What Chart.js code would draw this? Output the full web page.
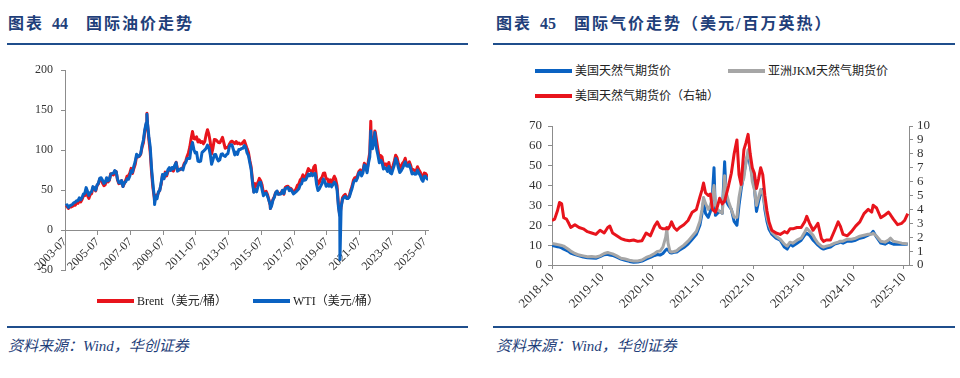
<!DOCTYPE html>
<html lang="zh-CN">
<head>
<meta charset="utf-8">
<title>国际油价与气价走势</title>
<script src="https://cdn.jsdelivr.net/npm/chart.js@4.4.1/dist/chart.umd.min.js"></script>
<style>
  html, body { margin: 0; padding: 0; background: #fff; }
  body { width: 960px; height: 378px; position: relative; overflow: hidden;
         font-family: "Liberation Serif", "Noto Sans CJK SC", serif; }
  .title { position: absolute; top: 14px; font-size: 16px; line-height: 20px; font-weight: bold;
           color: #1f3f7a; letter-spacing: 2px; white-space: nowrap; }
  .title .num { margin: 0 18px 0 8px; letter-spacing: 0; }
  .rule { position: absolute; height: 2px; background: #1f4e8c; }
  .source { position: absolute; top: 336px; font-size: 15px; line-height: 20px; font-style: italic;
            color: #1f3f7a; white-space: nowrap; }
  .box { position: absolute; }
  .legend { position: absolute; font-size: 12px; line-height: 16px; color: #222; white-space: nowrap;
            display: flex; align-items: center; }
  .legend i { display: inline-block; width: 37px; height: 4px; margin-right: 3px; }
</style>
</head>
<body>

<div class="title" style="left:8px">图表<span class="num">44</span>国际油价走势</div>
<div class="rule" style="left:7px; width:461px; top:43px"></div>
<div class="box" style="left:0; top:55px"><canvas id="oilChart" width="470" height="240"></canvas></div>
<div class="legend" style="left:97px; top:293px"><i style="background:#e8141c"></i>Brent（美元/桶）</div>
<div class="legend" style="left:253px; top:293px"><i style="background:#0a62c2"></i>WTI（美元/桶）</div>
<div class="rule" style="left:7px; width:461px; top:326px"></div>
<div class="source" style="left:8px">资料来源：Wind，华创证券</div>

<div class="title" style="left:496px">图表<span class="num">45</span>国际气价走势（美元/百万英热）</div>
<div class="rule" style="left:493px; width:462px; top:43px"></div>
<div class="legend" style="left:535px; top:63px"><i style="background:#0a62c2"></i>美国天然气期货价</div>
<div class="legend" style="left:728px; top:63px"><i style="background:#a6a6a6"></i>亚洲JKM天然气期货价</div>
<div class="legend" style="left:535px; top:88px"><i style="background:#e8141c"></i>美国天然气期货价（右轴）</div>
<div class="box" style="left:490px; top:110px"><canvas id="gasChart" width="470" height="210"></canvas></div>
<div class="rule" style="left:493px; width:462px; top:326px"></div>
<div class="source" style="left:496px">资料来源：Wind，华创证券</div>

<script>
// ---- 图表44：国际油价（月均，美元/桶），从 2003-07 开始 ----
const brent = [
  28.5, 29.8, 27.1, 29.6, 28.8, 29.8,
  31.2, 30.9, 33.8, 33.4, 37.9, 35.2, 38.2, 42.7, 43.2, 49.8, 43.1, 39.6,
  44.5, 45.5, 53.1, 51.9, 49.0, 55.6, 57.9, 63.8, 63.7, 58.9, 55.5, 56.7,
  63.0, 60.2, 62.1, 70.3, 70.0, 68.9, 73.7, 73.2, 62.5, 58.0, 58.8, 62.0,
  54.5, 58.0, 62.1, 67.5, 67.9, 71.3, 77.2, 70.8, 77.1, 82.3, 92.5, 91.5,
  92.2, 94.9, 103.6, 109.1, 122.8, 132.3, 132.7, 113.2, 97.2, 71.6, 52.5, 40.0,
  43.4, 43.0, 46.5, 50.2, 57.3, 68.6, 64.4, 72.5, 67.7, 73.2, 77.0, 74.7,
  76.2, 73.8, 78.8, 84.8, 75.9, 74.8, 75.6, 77.1, 78.2, 83.5, 86.1, 92.0,
  96.5, 103.7, 114.6, 123.3, 114.5, 113.9, 116.7, 110.2, 112.8, 109.6, 110.8, 107.9,
  110.7, 119.3, 125.5, 119.8, 110.3, 95.2, 102.6, 113.4, 113.0, 111.5, 109.5, 109.2,
  112.3, 116.1, 109.0, 102.3, 103.3, 103.3, 107.4, 110.3, 111.2, 109.5, 108.1, 110.7,
  108.1, 108.9, 107.5, 107.8, 109.7, 111.9, 107.0, 101.9, 97.3, 87.3, 79.0, 62.3,
  47.8, 58.1, 55.9, 59.5, 64.6, 61.7, 56.5, 46.5, 47.6, 48.4, 44.3, 38.0,
  30.7, 32.2, 38.2, 41.6, 46.9, 48.3, 45.0, 45.8, 46.6, 49.5, 44.8, 53.3,
  54.6, 54.9, 51.6, 52.3, 50.3, 46.4, 48.5, 51.7, 56.2, 57.5, 62.7, 64.4,
  69.1, 65.3, 66.0, 72.1, 76.9, 74.4, 74.3, 72.5, 78.9, 81.0, 64.8, 57.4,
  59.4, 64.0, 66.1, 71.2, 71.3, 64.2, 63.9, 59.0, 62.8, 59.7, 63.2, 67.3,
  63.6, 55.5, 32.0, 18.4, 29.4, 40.3, 43.2, 44.7, 40.9, 40.2, 42.7, 49.9,
  54.8, 62.3, 65.4, 64.8, 68.5, 73.2, 75.2, 70.8, 74.5, 83.5, 81.1, 74.2,
  86.5, 97.1, 117.3, 104.6, 113.3, 122.7, 111.9, 100.5, 89.8, 93.3, 91.4, 80.9,
  82.5, 82.6, 78.4, 84.6, 75.5, 74.8, 80.1, 86.2, 93.7, 90.6, 82.9, 77.6,
  80.1, 83.5, 85.4, 89.9, 81.8, 82.6, 85.3, 80.9, 74.3, 75.6, 74.4, 73.9,
  79.2, 75.2, 72.6, 68.0, 64.5, 71.4, 70.5, 67.9, 68.0, 64.0, 63.5
];
const wti = [
  30.7, 31.6, 28.3, 30.3, 31.1, 32.2,
  34.3, 34.7, 36.8, 36.7, 40.3, 38.0, 40.7, 44.9, 45.9, 53.1, 48.5, 43.3,
  46.8, 48.0, 54.3, 53.0, 49.8, 56.3, 58.7, 65.0, 65.5, 62.4, 58.3, 59.4,
  65.5, 61.6, 62.9, 69.7, 70.9, 71.0, 74.4, 73.1, 63.9, 59.1, 59.0, 62.0,
  54.5, 59.3, 60.4, 64.0, 63.5, 67.5, 74.1, 72.4, 79.9, 85.8, 94.8, 91.7,
  93.0, 95.4, 105.5, 112.6, 125.4, 133.9, 133.4, 116.7, 104.1, 76.6, 57.3, 41.1,
  41.7, 39.1, 47.9, 49.6, 59.0, 69.6, 64.1, 71.0, 69.4, 75.7, 78.0, 74.5,
  78.3, 76.4, 81.2, 84.3, 73.7, 75.3, 76.3, 76.6, 75.2, 81.9, 84.3, 89.2,
  89.5, 89.6, 102.9, 109.5, 100.9, 96.3, 97.3, 86.3, 85.5, 86.3, 97.2, 98.6,
  100.3, 102.2, 106.2, 103.3, 94.7, 82.3, 87.9, 94.1, 94.5, 89.5, 86.5, 87.9,
  94.8, 95.3, 92.9, 92.0, 94.5, 95.8, 104.6, 106.6, 106.3, 100.5, 93.9, 97.6,
  94.6, 100.8, 100.8, 102.1, 102.2, 105.8, 103.6, 96.5, 93.2, 84.4, 75.8, 59.3,
  47.2, 50.6, 47.8, 54.5, 59.3, 59.8, 50.9, 42.9, 45.5, 46.2, 42.4, 37.2,
  31.7, 30.3, 37.5, 40.8, 46.7, 48.8, 44.7, 44.7, 45.2, 49.8, 45.7, 52.0,
  52.5, 53.5, 49.3, 51.1, 48.5, 45.2, 46.6, 48.0, 49.8, 51.6, 56.6, 57.9,
  63.7, 62.2, 62.7, 66.3, 70.0, 67.9, 71.0, 68.1, 70.2, 70.8, 57.0, 49.5,
  51.4, 55.0, 58.2, 63.9, 60.8, 54.7, 57.4, 54.8, 57.0, 54.0, 57.0, 59.9,
  57.5, 50.5, 29.2, 16.6, 28.5, 38.3, 40.7, 42.3, 39.6, 39.4, 41.4, 47.0,
  52.0, 59.1, 62.4, 61.7, 65.2, 71.4, 72.5, 67.7, 71.6, 81.5, 79.2, 71.7,
  83.2, 91.6, 108.5, 101.8, 109.6, 114.8, 101.6, 93.7, 84.3, 87.3, 84.4, 76.4,
  78.1, 76.8, 73.3, 79.5, 71.6, 70.3, 76.1, 81.4, 89.4, 85.6, 77.7, 71.9,
  74.1, 77.2, 81.3, 85.4, 80.0, 79.8, 81.8, 76.7, 70.2, 71.6, 69.8, 70.1,
  75.1, 71.2, 68.2, 63.5, 61.0, 67.3, 67.2, 64.0, 63.5, 60.0, 59.5
];
// 月均会抹平的日度尖峰
const oilSpikeDates = ['2008-07-03', '2008-12-22', '2016-01-20', '2020-04-20', '2022-03-08', '2022-06-08'];
const brentSpikes = [146, 36, 27, 19, 136, 124];
const wtiSpikes = [145, 32, 27, -37, 124, 122];
const oilTickLabels = ['2003-07', '2005-07', '2007-07', '2009-07', '2011-07', '2013-07',
                       '2015-07', '2017-07', '2019-07', '2021-07', '2023-07', '2025-07'];

// ---- 图表45：国际气价（美元/百万英热） ----
const gasDates = [
  '2018-10-01', '2018-10-20', '2018-11-10', '2018-11-25', '2018-12-10', '2018-12-25',
  '2019-01-15', '2019-02-01', '2019-02-15', '2019-03-15', '2019-04-15', '2019-05-15',
  '2019-06-15', '2019-07-15', '2019-08-15', '2019-09-15', '2019-10-15', '2019-11-10',
  '2019-11-25', '2019-12-15', '2020-01-15', '2020-02-15', '2020-03-15', '2020-04-15',
  '2020-05-15', '2020-06-15', '2020-07-15', '2020-08-15', '2020-09-15', '2020-10-15',
  '2020-11-05', '2020-11-25', '2020-12-15', '2021-01-05', '2021-01-13', '2021-01-22',
  '2021-02-05', '2021-02-17', '2021-03-05', '2021-03-25', '2021-04-15', '2021-05-15',
  '2021-06-15', '2021-07-15', '2021-08-15', '2021-09-10', '2021-09-25', '2021-10-06',
  '2021-10-20', '2021-11-10', '2021-11-25', '2021-12-10', '2021-12-21', '2021-12-31',
  '2022-01-15', '2022-02-01', '2022-02-20', '2022-03-07', '2022-03-20', '2022-04-05',
  '2022-04-25', '2022-05-15', '2022-06-05', '2022-06-20', '2022-07-05', '2022-07-25',
  '2022-08-10', '2022-08-25', '2022-09-10', '2022-09-25', '2022-10-10', '2022-10-25',
  '2022-11-10', '2022-11-25', '2022-12-10', '2022-12-25', '2023-01-10', '2023-01-25',
  '2023-02-15', '2023-03-15', '2023-04-15', '2023-05-15', '2023-06-05', '2023-06-25',
  '2023-07-15', '2023-08-15', '2023-09-15', '2023-10-10', '2023-10-25', '2023-11-15',
  '2023-12-10', '2023-12-25', '2024-01-15', '2024-02-10', '2024-02-25', '2024-03-15',
  '2024-04-15', '2024-05-15', '2024-06-10', '2024-06-25', '2024-07-15', '2024-08-15',
  '2024-09-15', '2024-10-15', '2024-11-15', '2024-12-15', '2025-01-15', '2025-02-10',
  '2025-02-20', '2025-03-15', '2025-04-15', '2025-05-15', '2025-06-10', '2025-06-25',
  '2025-07-15', '2025-08-15', '2025-09-15', '2025-10-05', '2025-10-28'
];
// 左轴
const usGas = [
  9.9, 9.5, 9.2, 9.0, 8.6, 8.0, 7.4, 6.8, 6.0, 5.2, 4.6, 4.0,
  3.6, 3.5, 3.4, 4.2, 5.2, 5.4, 5.0, 4.8, 4.0, 3.0, 2.4, 1.8,
  1.4, 1.5, 2.0, 3.0, 3.8, 4.8, 5.3, 5.0, 5.8, 7.5, 8.0, 7.6,
  6.3, 6.0, 6.4, 6.6, 7.5, 8.8, 10.5, 13.0, 15.5, 20.0, 26.0, 32.0,
  26.0, 24.0, 27.0, 36.0, 49.0, 25.0, 26.0, 27.0, 26.0, 52.0, 32.0, 30.0,
  28.0, 22.0, 20.0, 30.0, 38.0, 46.0, 52.0, 56.0, 50.0, 45.0, 39.0, 27.0,
  32.0, 36.0, 38.0, 28.0, 22.0, 18.0, 15.5, 13.5, 12.5, 9.0, 8.0, 10.5,
  9.5, 11.0, 12.5, 15.0, 16.0, 15.0, 12.5, 11.5, 10.0, 8.5, 8.0, 8.5,
  9.0, 10.5, 11.0, 11.5, 11.0, 12.0, 12.0, 12.5, 13.5, 14.0, 15.0, 16.0,
  17.0, 14.0, 11.0, 10.5, 11.5, 11.0, 10.5, 10.5, 10.5, 10.5, 10.4
];
const jkmGas = [
  10.9, 10.6, 10.3, 10.1, 9.8, 9.5, 8.6, 7.8, 7.0, 5.8, 5.0, 4.6,
  4.2, 4.3, 4.0, 4.6, 5.8, 6.3, 6.0, 5.6, 4.6, 3.4, 3.0, 2.4,
  2.0, 2.0, 2.5, 3.8, 4.6, 5.8, 6.8, 7.0, 9.0, 14.0, 18.0, 11.0,
  7.0, 6.5, 6.8, 7.2, 8.5, 10.0, 12.0, 14.5, 17.0, 22.0, 28.0, 34.0,
  31.0, 28.0, 30.0, 34.0, 40.0, 30.0, 28.0, 27.0, 26.0, 45.0, 36.0, 32.0,
  28.0, 24.0, 24.0, 34.0, 40.0, 44.0, 52.0, 58.0, 52.0, 42.0, 38.0, 30.0,
  34.0, 38.0, 36.0, 30.0, 24.0, 20.0, 16.5, 14.5, 13.0, 10.5, 9.5, 11.5,
  11.0, 12.5, 13.5, 16.5, 18.5, 17.0, 15.0, 13.0, 11.0, 9.5, 9.0, 9.5,
  10.0, 11.0, 11.5, 12.0, 12.0, 13.0, 13.0, 13.5, 14.5, 15.0, 15.5, 15.5,
  16.0, 14.5, 12.0, 11.5, 12.5, 13.5, 12.0, 11.5, 11.0, 10.8, 10.6
];
// 右轴
const usGasRight = [
  3.2, 3.3, 3.9, 4.5, 4.4, 3.4, 3.3, 3.0, 2.7, 2.9, 2.7, 2.6,
  2.4, 2.3, 2.2, 2.5, 2.3, 2.7, 2.8, 2.3, 2.1, 1.9, 1.8, 1.75,
  1.8, 1.7, 1.75, 2.3, 2.1, 2.8, 3.1, 2.7, 2.6, 2.6, 2.7, 2.6,
  2.8, 3.1, 2.7, 2.5, 2.7, 2.9, 3.2, 3.8, 4.0, 4.9, 5.4, 5.9,
  5.2, 5.0, 5.1, 4.0, 3.9, 3.8, 4.2, 4.8, 4.4, 4.6, 5.1, 5.7,
  6.6, 8.0, 9.0, 6.5, 5.8, 8.3, 8.8, 9.4, 8.0, 7.0, 6.6, 5.5,
  6.2, 7.0, 6.5, 5.0, 3.9, 3.1, 2.5, 2.3, 2.2, 2.4, 2.3, 2.6,
  2.6, 2.7, 2.7, 3.1, 3.5, 3.0, 2.5, 2.7, 3.0, 1.9, 1.7, 1.8,
  1.8, 2.5, 3.1, 2.8, 2.2, 2.1, 2.4, 2.8, 3.1, 3.7, 4.0, 3.8,
  4.3, 4.1, 3.4, 3.6, 3.8, 3.6, 3.3, 2.9, 3.0, 3.2, 3.7
];
const gasTickLabels = ['2018-10', '2019-10', '2020-10', '2021-10', '2022-10', '2023-10', '2024-10', '2025-10'];

const serif = '"Liberation Serif", "Times New Roman", serif';
const axisGray = '#8c8c8c';
const red = '#e8141c';
const blue = '#0a62c2';
const gray = '#a6a6a6';

function monthsSince(dateStr, y0, m0) {
  const [y, m, d] = dateStr.split('-').map(Number);
  return (y - y0) * 12 + (m - m0) + (d - 1) / 30;
}

function oilPoints(monthly, spikes) {
  const pts = monthly.map((v, i) => ({ x: i + 0.5, y: v }));
  oilSpikeDates.forEach((d, i) => pts.push({ x: monthsSince(d, 2003, 7), y: spikes[i] }));
  return pts.sort((a, b) => a.x - b.x);
}

function gasPoints(values) {
  return gasDates.map((d, i) => ({ x: monthsSince(d, 2018, 10), y: values[i] }));
}

function lineSet(label, data, color, order, yAxisID) {
  return {
    label, data, order, yAxisID: yAxisID || 'y',
    borderColor: color, backgroundColor: color, borderWidth: 3,
    pointRadius: 0, tension: 0, borderJoinStyle: 'round'
  };
}

const axisGrid = { display: true, drawOnChartArea: false, drawTicks: true, tickLength: 4, color: axisGray };
const axisBorder = { display: true, color: axisGray, width: 1 };

// 油价：x 轴压在 y=0 上，标签落在 0 和 -50 之间
new Chart(document.getElementById('oilChart'), {
  type: 'line',
  data: {
    datasets: [
      lineSet('Brent（美元/桶）', oilPoints(brent, brentSpikes), red, 2),
      lineSet('WTI（美元/桶）', oilPoints(wti, wtiSpikes), blue, 1)
    ]
  },
  options: {
    responsive: false,
    animation: false,
    layout: { padding: { top: 12, right: 42, bottom: 25, left: 0 } },
    plugins: { legend: { display: false }, tooltip: { enabled: false } },
    scales: {
      x: {
        type: 'linear', position: { y: 0 }, min: 0, max: 266.2,
        afterBuildTicks: s => { s.ticks = oilTickLabels.map((t, i) => ({ value: i * 24 })); },
        ticks: {
          autoSkip: false, maxRotation: 45, minRotation: 45, padding: 1,
          color: '#333', font: { family: serif, size: 12 },
          callback: (v, i) => oilTickLabels[i]
        },
        grid: axisGrid, border: axisBorder
      },
      y: {
        min: -50, max: 200,
        ticks: { stepSize: 50, autoSkip: false, padding: 8, color: '#333', font: { family: serif, size: 12 } },
        grid: axisGrid, border: axisBorder,
        afterFit: s => { s.width = 65; }
      }
    }
  }
});

// 气价：双轴
new Chart(document.getElementById('gasChart'), {
  type: 'line',
  data: {
    datasets: [
      lineSet('美国天然气期货价', gasPoints(usGas), blue, 3),
      lineSet('亚洲JKM天然气期货价', gasPoints(jkmGas), gray, 2),
      lineSet('美国天然气期货价（右轴）', gasPoints(usGasRight), red, 1, 'y1')
    ]
  },
  options: {
    responsive: false,
    animation: false,
    layout: { padding: { top: 16, right: 11, bottom: 5, left: 0 } },
    plugins: { legend: { display: false }, tooltip: { enabled: false } },
    scales: {
      x: {
        type: 'linear', min: 0, max: 85.2,
        afterBuildTicks: s => { s.ticks = gasTickLabels.map((t, i) => ({ value: i * 12 })); },
        ticks: {
          autoSkip: false, maxRotation: 45, minRotation: 45, padding: 1,
          color: '#333', font: { family: serif, size: 13 },
          callback: (v, i) => gasTickLabels[i]
        },
        grid: axisGrid, border: axisBorder,
        afterFit: s => { s.height = 50; }
      },
      y: {
        position: 'left', min: 0, max: 70,
        ticks: { stepSize: 10, autoSkip: false, padding: 6, color: '#333', font: { family: serif, size: 13 } },
        grid: axisGrid, border: axisBorder,
        afterFit: s => { s.width = 62; }
      },
      y1: {
        position: 'right', min: 0, max: 10,
        ticks: { stepSize: 1, autoSkip: false, padding: 4, color: '#333', font: { family: serif, size: 13 } },
        grid: axisGrid, border: axisBorder,
        afterFit: s => { s.width = 40; }
      }
    }
  }
});
</script>
</body>
</html>
